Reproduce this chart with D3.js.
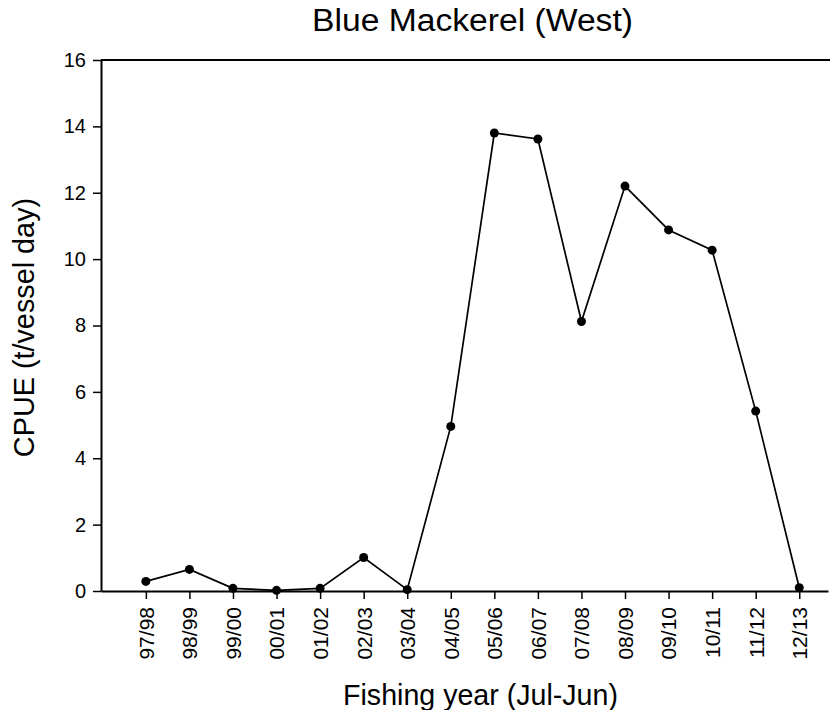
<!DOCTYPE html>
<html><head><meta charset="utf-8">
<script src="https://cdn.jsdelivr.net/npm/d3@7"></script>
<style>body{margin:0;background:#fff}svg{display:block}text{font-family:"Liberation Sans",Arial,sans-serif;fill:#000}</style>
</head><body><svg id="c" width="830" height="710"></svg>
<script>
const categories = ["97/98","98/99","99/00","00/01","01/02","02/03","03/04","04/05","05/06","06/07","07/08","08/09","09/10","10/11","11/12","12/13"];
const cpue = [0.29,0.65,0.08,0.02,0.08,1.01,0.04,4.96,13.8,13.62,8.12,12.2,10.88,10.27,5.42,0.1];
const yTicks = [0,2,4,6,8,10,12,14,16];
const title = "Blue Mackerel (West)";
const xTitle = "Fishing year (Jul-Jun)";
const yTitle = "CPUE (t/vessel day)";

const svg = d3.select("#c");
const L = 101, R = 828, T = 60, B = 591;
const x = d3.scaleLinear().domain([-1.03, 15.66]).range([L, R]);
const y = d3.scaleLinear().domain([0, 16]).range([B, T]);
const FONT = "Liberation Sans, Arial, sans-serif";

// top frame line
svg.append("line").attr("x1", L).attr("x2", 830).attr("y1", T).attr("y2", T)
  .attr("stroke", "#000").attr("stroke-width", 2);

const yAxis = svg.append("g").attr("transform", `translate(${L},0)`)
  .call(d3.axisLeft(y).tickValues(yTicks).tickSize(8).tickPadding(7).tickSizeOuter(0));
yAxis.select(".domain").attr("stroke-width", 2);
yAxis.selectAll(".tick line").attr("stroke-width", 1.5);
yAxis.selectAll("text").style("font-size", "20px").style("font-family", FONT);

const xAxis = svg.append("g").attr("transform", `translate(0,${B})`)
  .call(d3.axisBottom(x).tickValues(d3.range(categories.length)).tickFormat(i => categories[i]).tickSize(8).tickSizeOuter(0));
xAxis.select(".domain").attr("stroke-width", 2);
xAxis.selectAll(".tick line").attr("stroke-width", 1.5);
xAxis.selectAll("text").style("font-size", "21px").style("font-family", FONT)
  .attr("text-anchor", "end").attr("transform", "rotate(-90)")
  .attr("x", -16).attr("y", 0).attr("dy", "0.35em");

const line = d3.line().x((d, i) => x(i)).y(d => y(d));
svg.append("path").datum(cpue).attr("d", line).attr("fill", "none")
  .attr("stroke", "#000").attr("stroke-width", 1.7);
svg.selectAll("circle.pt").data(cpue).join("circle").attr("class", "pt")
  .attr("cx", (d, i) => x(i)).attr("cy", d => y(d)).attr("r", 4.5).attr("fill", "#000");

svg.append("text").attr("x", 472.5).attr("y", 31).attr("text-anchor", "middle")
  .attr("textLength", 321).attr("lengthAdjust", "spacingAndGlyphs")
  .style("font-size", "31px").text(title);
svg.append("text").attr("x", 480.5).attr("y", 705).attr("text-anchor", "middle")
  .style("font-size", "28.6px").text(xTitle);
svg.append("text").attr("transform", `translate(34,327.5) rotate(-90)`).attr("text-anchor", "middle")
  .style("font-size", "28.8px").text(yTitle);
</script></body></html>
